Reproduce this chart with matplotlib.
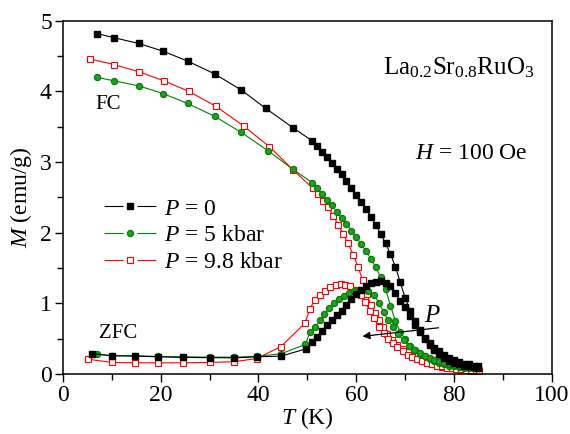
import matplotlib
matplotlib.use("Agg")
import matplotlib.pyplot as plt
from matplotlib.lines import Line2D

plt.rcParams["font.family"] = ["Liberation Serif", "DejaVu Serif"]
plt.rcParams["mathtext.fontset"] = "custom"
plt.rcParams["mathtext.rm"] = "Liberation Serif"
plt.rcParams["mathtext.it"] = "Liberation Serif:italic"

# P = 0
t_fc0 = [7, 10.5, 15.5, 20.5, 25.5, 31, 36.5, 41.5, 47, 51, 52, 53, 54, 55, 56, 57, 58, 59, 60,
         61, 62, 63, 64, 65, 66, 67, 68, 69, 70, 71, 72, 73, 74, 75, 76, 77, 78, 79, 80,
         81, 82, 83, 84, 85]
m_fc0 = [4.82, 4.76, 4.68, 4.57, 4.43, 4.25, 4.02, 3.76, 3.49, 3.30, 3.23, 3.15, 3.07, 2.99,
         2.91, 2.83, 2.74, 2.64, 2.54, 2.44, 2.34, 2.23, 2.11, 1.98, 1.85, 1.70, 1.52, 1.30,
         1.08, 0.90, 0.75, 0.62, 0.50, 0.41, 0.34, 0.28, 0.23, 0.19, 0.16, 0.14, 0.12, 0.11,
         0.10, 0.09]
t_zfc0 = [6, 10, 14.7, 19.5, 24.5, 30, 35, 39.7, 44.7, 49.8, 51, 52, 53, 54, 55, 56, 57, 58,
          59, 60, 61, 62, 63, 64, 65, 66, 67, 68, 69, 70, 71, 72, 73, 74, 75, 76, 77, 78, 79,
          80, 81, 82, 83, 84, 85]
m_zfc0 = [0.29, 0.26, 0.255, 0.245, 0.236, 0.233, 0.23, 0.245, 0.255, 0.36, 0.45, 0.53, 0.61,
          0.69, 0.76, 0.83, 0.90, 0.98, 1.06, 1.13, 1.19, 1.25, 1.29, 1.31, 1.32, 1.29, 1.24,
          1.15, 1.03, 0.95, 0.82, 0.70, 0.60, 0.51, 0.44, 0.37, 0.32, 0.27, 0.23, 0.20, 0.17,
          0.15, 0.14, 0.12, 0.11]

# P = 5 kbar
t_fc5 = [7, 10.5, 15.5, 20.5, 25.5, 31, 36.5, 42, 47, 51, 52, 53, 54, 55, 56, 57, 58, 59, 60,
         61, 62, 63, 64, 65, 66, 67, 68, 69, 70, 71, 72, 73, 74, 75, 76, 77, 78, 79, 80,
         81, 82, 83, 84, 85]
m_fc5 = [4.20, 4.15, 4.08, 3.97, 3.83, 3.65, 3.42, 3.16, 2.90, 2.71, 2.63, 2.55, 2.47, 2.39,
         2.30, 2.21, 2.13, 2.03, 1.94, 1.84, 1.74, 1.63, 1.51, 1.37, 1.20, 0.97, 0.75, 0.60,
         0.49, 0.40, 0.34, 0.29, 0.25, 0.21, 0.18, 0.16, 0.14, 0.12, 0.11, 0.10, 0.09, 0.09,
         0.08, 0.08]
t_zfc5 = [7, 10, 14.7, 19.5, 24.5, 30, 35, 39.7, 44.7, 49.6, 50.5, 51.6, 52.6, 53.5, 54.5,
          55.5, 56.5, 57.5, 58.5, 59.5, 60.5, 61.5, 62.5, 63.7, 64.7, 65.6, 66.5, 67.5, 68.6,
          69.7, 70.8, 71.9, 73, 74, 75, 76, 77, 78, 79, 80, 81, 82, 83, 84, 85]
m_zfc5 = [0.28, 0.26, 0.26, 0.25, 0.245, 0.24, 0.24, 0.25, 0.29, 0.42, 0.59, 0.67, 0.76, 0.85,
          0.93, 1.00, 1.06, 1.11, 1.15, 1.18, 1.19, 1.19, 1.18, 1.12, 1.00, 0.88, 0.76, 0.67,
          0.57, 0.48, 0.40, 0.34, 0.30, 0.26, 0.23, 0.20, 0.18, 0.16, 0.14, 0.13, 0.12, 0.11,
          0.10, 0.09, 0.09]

# P = 9.8 kbar
t_fc98 = [5.5, 10.5, 15.5, 20.7, 25.8, 31.3, 37, 42.2, 47.1, 51.1, 52.2, 53.2, 54.3, 55.3,
          56.3, 57.3, 58.3, 59.4, 60.4, 61.3, 62.1, 63, 63.8, 64.7, 65.5, 66.3, 67.4, 68.4,
          69.5, 70.5, 71.5, 72.5, 73.5, 74.5, 75.5, 76.5, 77.5, 78.5, 79.5, 80.5, 81.5, 82.5,
          83.5, 84.5, 85.2]
m_fc98 = [4.46, 4.38, 4.28, 4.15, 4.00, 3.79, 3.51, 3.22, 2.89, 2.63, 2.55, 2.45, 2.36, 2.24,
          2.11, 1.99, 1.85, 1.69, 1.51, 1.33, 1.14, 0.98, 0.86, 0.76, 0.67, 0.57, 0.48, 0.41,
          0.36, 0.31, 0.26, 0.22, 0.19, 0.16, 0.14, 0.12, 0.10, 0.09, 0.08, 0.07, 0.06, 0.06,
          0.05, 0.05, 0.05]
t_zfc98 = [5.2, 10, 14.7, 19.5, 24.5, 30, 35, 39.6, 44.6, 49.5, 50.5, 51.5, 52.6, 53.6, 54.7,
           55.8, 56.8, 57.8, 58.8, 60, 60.9, 61.8, 62.8, 63.6, 64.6, 65.6, 66.5, 67.5, 68.4,
           69.6, 70.6, 71.5, 72.5, 73.5, 74.5, 75.5, 76.5, 77.5, 78.5, 79.5, 80.5, 81.5, 82.5,
           83.5, 84.5, 85.2]
m_zfc98 = [0.21, 0.165, 0.16, 0.16, 0.16, 0.165, 0.175, 0.22, 0.39, 0.72, 0.92, 1.05, 1.12,
           1.18, 1.23, 1.26, 1.27, 1.26, 1.24, 1.19, 1.12, 1.02, 0.90, 0.79, 0.67, 0.58, 0.50,
           0.44, 0.38, 0.33, 0.27, 0.24, 0.21, 0.18, 0.16, 0.14, 0.12, 0.11, 0.09, 0.08, 0.07,
           0.07, 0.06, 0.06, 0.06, 0.05]

labels = ["$P$ = 0", "$P$ = 5 kbar", "$P$ = 9.8 kbar"]

fig = plt.figure(figsize=(5.7, 4.34), dpi=100)
ax = fig.add_axes([0.1105, 0.138, 0.8575, 0.814])

green = "#008000"
black_kw = dict(color="black", lw=0.8, marker="s", ms=4.3, mfc="black", mec="black")
green_kw = dict(color=green, lw=0.8, marker="o", ms=4.4, mfc="#2a9a2a", mec=green, mew=0.9)
red_kw = dict(color="red", lw=0.8, marker="s", ms=4.2, mfc="white", mec="red", mew=0.8)

ax.plot(t_fc98, m_fc98, **red_kw, zorder=2)
ax.plot(t_zfc98, m_zfc98, **red_kw, zorder=2)
ax.plot(t_fc5, m_fc5, **green_kw, zorder=3)
ax.plot(t_zfc5, m_zfc5, **green_kw, zorder=3)
ax.plot(t_fc0, m_fc0, **black_kw, zorder=4)
ax.plot(t_zfc0, m_zfc0, **black_kw, zorder=4)

ax.set_xlim(0, 100)
ax.set_ylim(0, 5)
ax.set_xticks([0, 20, 40, 60, 80, 100])
ax.set_xticks([10, 30, 50, 70, 90], minor=True)
ax.set_yticks([0, 1, 2, 3, 4, 5])
ax.set_yticks([0.5, 1.5, 2.5, 3.5, 4.5], minor=True)
ax.tick_params(which="both", direction="out", labelsize=17, width=1, pad=2)
ax.tick_params(which="major", length=6)
ax.tick_params(which="minor", length=4)
for s in ax.spines.values():
    s.set_linewidth(1.1)

ax.set_xlabel("$T$ (K)", fontsize=17, labelpad=-1)
ax.set_ylabel("$M$ (emu/g)", fontsize=17, labelpad=4)

ax.text(9.3, 3.81, "FC", fontsize=15, ha="center", va="center")
ax.text(11.3, 0.57, "ZFC", fontsize=15, ha="center", va="center")
ax.text(96.5, 4.33, "La$_{0.2}$Sr$_{0.8}$RuO$_3$", fontsize=18, ha="right", va="center")
ax.text(95, 3.12, "$H$ = 100 Oe", fontsize=17, ha="right", va="center")

ax.annotate("", xy=(60.7, 0.53), xytext=(77.4, 0.66),
            arrowprops=dict(arrowstyle="-|>", color="black", lw=0.9, mutation_scale=11))
ax.text(75.5, 0.82, "$P$", fontsize=18, ha="center", va="center")

# legend handles: line - marker - line, with a gap round the marker
gap_style = (0, (17.1, 12.5))
handles = [
    Line2D([0], [0], linestyle=gap_style, **black_kw),
    Line2D([0], [0], linestyle=gap_style, **green_kw),
    Line2D([0], [0], linestyle=gap_style, **red_kw),
]
ax.legend(handles, labels, loc="upper left", bbox_to_anchor=(0.065, 0.525), frameon=False,
          fontsize=17, handlelength=2.2, handletextpad=0.35, labelspacing=0.22,
          borderaxespad=0)

fig.savefig("out.png", dpi=100)
